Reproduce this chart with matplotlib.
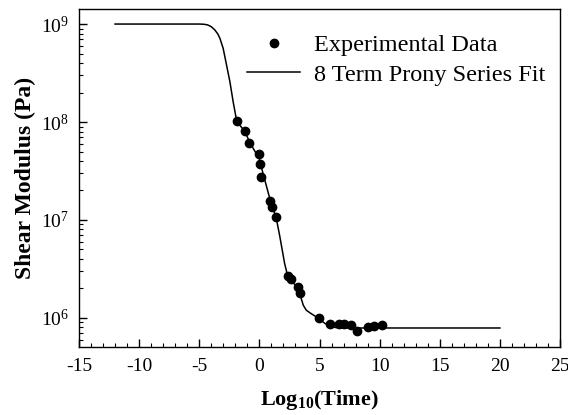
import numpy as np
import matplotlib
matplotlib.use('Agg')
import matplotlib.pyplot as plt
from matplotlib.ticker import LogLocator, MultipleLocator, FixedLocator

plt.rcParams['font.family'] = ['Liberation Serif', 'DejaVu Serif']
plt.rcParams['mathtext.fontset'] = 'custom'
plt.rcParams['mathtext.rm'] = 'Liberation Serif'
plt.rcParams['mathtext.it'] = 'Liberation Serif:italic'
plt.rcParams['mathtext.bf'] = 'Liberation Serif:bold'
plt.rcParams['axes.unicode_minus'] = False

# measured shear modulus vs log10(time)
log_t = [-1.85, -1.18, -0.85, -0.04, 0.04, 0.12, 0.87, 1.08, 1.40,
         2.34, 2.62, 3.23, 3.37, 4.97, 5.86, 6.63, 7.05, 7.61, 8.13,
         9.04, 9.52, 10.16]
modulus = [1.03e8, 8.15e7, 6.1e7, 4.68e7, 3.73e7, 2.73e7, 1.56e7, 1.36e7, 1.08e7,
           2.70e6, 2.50e6, 2.06e6, 1.79e6, 9.9e5, 8.6e5, 8.6e5, 8.6e5, 8.5e5, 7.4e5,
           8.0e5, 8.3e5, 8.5e5]

# prony series fit curve
fit_t = [-12, -5.0, -4.6, -4.3, -4.0, -3.7, -3.45, -3.28, -3.01, -2.73, -2.45,
         -2.18, -1.90, -1.6, -1.2, -0.8, -0.4, 0.0, 0.3, 0.9, 1.4, 1.7, 2.1,
         2.3, 2.6, 3.0, 3.35, 3.5, 3.65, 3.9, 4.2, 4.6, 5.0, 5.45, 5.9, 6.3,
         6.8, 20]
fit_g = [1e9, 1e9, 9.95e8, 9.8e8, 9.4e8, 8.7e8, 7.9e8, 7.15e8, 5.65e8, 3.82e8, 2.58e8,
         1.61e8, 1.05e8, 9.2e7, 8.0e7, 6.2e7, 5.1e7, 4.2e7, 3.0e7, 1.6e7, 1.05e7,
         6.8e6, 3.6e6, 2.85e6, 2.45e6, 2.15e6, 1.85e6, 1.55e6, 1.35e6, 1.2e6, 1.13e6,
         1.05e6, 9.7e5, 8.8e5, 8.25e5, 8.0e5, 7.9e5, 7.9e5]

fig = plt.figure(figsize=(5.68, 4.15), dpi=100)
ax = fig.add_axes([0.139, 0.164, 0.847, 0.814])

ax.plot(log_t, modulus, 'o', color='black', markersize=6, label='Experimental Data')
ax.plot(fit_t, fit_g, '-', color='black', lw=1.1, label='8 Term Prony Series Fit')

ax.set_yscale('log')
ax.set_xlim(-15, 25)
ax.set_ylim(5.06e5, 1.42e9)
ax.xaxis.set_major_locator(MultipleLocator(5))
ax.xaxis.set_minor_locator(MultipleLocator(1))
ax.yaxis.set_major_locator(FixedLocator([1e6, 1e7, 1e8, 1e9]))
ax.yaxis.set_minor_locator(LogLocator(base=10, subs=np.arange(2, 10)))
ax.yaxis.set_major_formatter(plt.FuncFormatter(lambda v, p: r'$10^{%d}$' % round(np.log10(v))))

ax.tick_params(which='both', direction='in', top=False, right=False, labelsize=14)
ax.tick_params(which='major', length=6, width=1)
ax.tick_params(which='minor', length=3, width=0.8)
ax.tick_params(axis='x', pad=8)
ax.tick_params(axis='y', pad=7)
for s in ax.spines.values():
    s.set_linewidth(1.0)

ax.set_xlabel(r'Log$_{\mathbf{10}}$(Time)', fontsize=16, fontweight='bold', labelpad=9)
ax.set_ylabel('Shear Modulus (Pa)', fontsize=17, fontweight='bold', labelpad=4)

ax.legend(loc='upper left', bbox_to_anchor=(0.349, 0.925), frameon=False, fontsize=17.5,
          handlelength=2.2, handletextpad=0.55, labelspacing=0.3, borderpad=0,
          borderaxespad=0)

fig.savefig('out.png', dpi=100)
